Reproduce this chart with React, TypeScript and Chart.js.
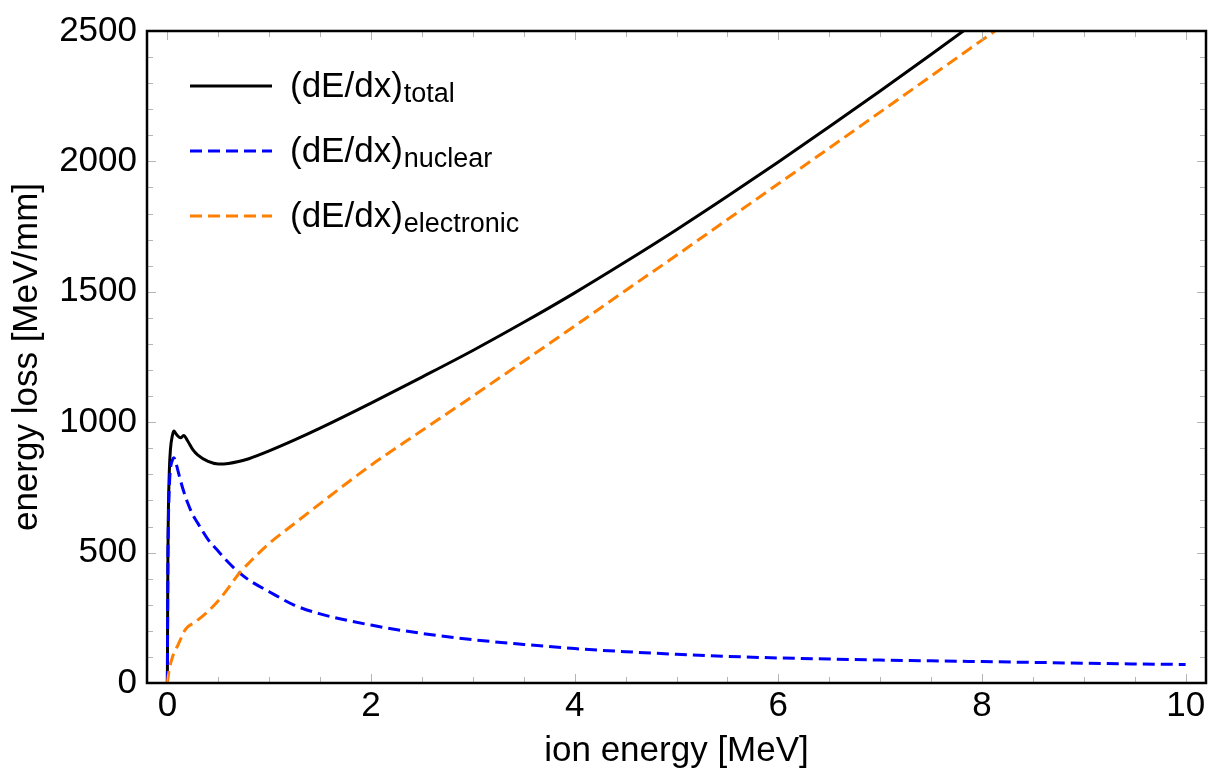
import React, { useEffect, useRef } from "react";
import { Chart, registerables } from "chart.js";

Chart.register(...registerables);

// ---- data ----
const ionEnergy = [0, 0.005, 0.01, 0.02, 0.03, 0.05, 0.065, 0.08, 0.1, 0.13, 0.16, 0.2, 0.25, 0.3, 0.4, 0.5, 0.6, 0.7, 0.8, 1.0, 1.25, 1.5, 2, 2.5, 3, 3.5, 4, 4.5, 5, 5.5, 6, 6.5, 7, 7.5, 8, 8.5, 9, 9.5, 10];
const dEdxTotal = [0, 470, 660, 820, 895, 950, 966, 958, 948, 940, 949, 928, 895, 874, 850, 840, 842, 849, 860, 890, 932, 977, 1073, 1173, 1275, 1383, 1496, 1615, 1738, 1866, 1998, 2133, 2270, 2410, 2552, null, null, null, null];
const dEdxNuclear = [0, 450, 620, 760, 820, 855, 864, 850, 820, 775, 735, 690, 645, 612, 550, 505, 462, 425, 395, 350, 298, 265, 222, 190, 166, 148, 132, 120, 110, 102, 96, 92, 88, 85, 82, 79, 76, 73, 71];
const dEdxElectronic = [0, 15, 30, 55, 72, 100, 115, 128, 142, 168, 195, 215, 228, 242, 275, 315, 365, 418, 460, 535, 612, 688, 835, 968, 1100, 1234, 1369, 1505, 1640, 1777, 1914, 2051, 2189, 2327, 2465, 2603, null, null, null];

const xTickValues = [0, 2, 4, 6, 8, 10];
const xMinorTickValues = [0, 0.5, 1, 1.5, 2, 2.5, 3, 3.5, 4, 4.5, 5, 5.5, 6, 6.5, 7, 7.5, 8, 8.5, 9, 9.5, 10];
const yTickValues = [0, 500, 1000, 1500, 2000, 2500];
const yMinorTickValues = [0, 100, 200, 300, 400, 500, 600, 700, 800, 900, 1000, 1100, 1200, 1300, 1400, 1500, 1600, 1700, 1800, 1900, 2000, 2100, 2200, 2300, 2400, 2500];

const legendItems = [
  { main: "(dE/dx)", sub: "total", color: "#000000", dash: [] as number[] },
  { main: "(dE/dx)", sub: "nuclear", color: "#0000ff", dash: [12, 6] },
  { main: "(dE/dx)", sub: "electronic", color: "#ff8000", dash: [12, 6] },
];

const FONT = "'Liberation Sans', Arial, Helvetica, sans-serif";

const pts = (ys: (number | null)[]) => ionEnergy.map((x, i) => ({ x, y: ys[i] }));

const framePlugin = {
  id: "framePlugin",
  afterDatasetsDraw(chart: any) {
    const { ctx, chartArea } = chart;
    const { left, right, top, bottom } = chartArea;
    const xs = chart.scales.x;
    const ys = chart.scales.y;
    ctx.save();
    ctx.strokeStyle = "#b4b4b4";
    ctx.lineWidth = 1;
    ctx.setLineDash([]);
    ctx.beginPath();
    xMinorTickValues.forEach((v) => {
      const px = Math.round(xs.getPixelForValue(v)) + 0.5;
      const len = xTickValues.includes(v) ? 9 : 6;
      ctx.moveTo(px, bottom);
      ctx.lineTo(px, bottom - len);
      ctx.moveTo(px, top);
      ctx.lineTo(px, top + len);
    });
    yMinorTickValues.forEach((v) => {
      const py = Math.round(ys.getPixelForValue(v)) + 0.5;
      const len = yTickValues.includes(v) ? 9 : 6;
      ctx.moveTo(left, py);
      ctx.lineTo(left + len, py);
      ctx.moveTo(right, py);
      ctx.lineTo(right - len, py);
    });
    ctx.stroke();
    ctx.strokeStyle = "#000000";
    ctx.lineWidth = 2.5;
    ctx.strokeRect(left, top, right - left, bottom - top);
    ctx.restore();
  },
  afterDraw(chart: any) {
    const { ctx, chartArea } = chart;
    const x0 = chartArea.left + 43;
    const x1 = chartArea.left + 125;
    const tx = chartArea.left + 143;
    ctx.save();
    legendItems.forEach((it, i) => {
      const y = chartArea.top + 55 + i * 65;
      ctx.strokeStyle = it.color;
      ctx.lineWidth = 3;
      ctx.setLineDash(it.dash);
      ctx.beginPath();
      ctx.moveTo(x0, y);
      ctx.lineTo(x1, y);
      ctx.stroke();
      ctx.setLineDash([]);
      ctx.fillStyle = "#000000";
      ctx.textBaseline = "alphabetic";
      ctx.textAlign = "left";
      ctx.font = `35px ${FONT}`;
      const base = y + 11;
      ctx.fillText(it.main, tx, base);
      const w = ctx.measureText(it.main).width;
      ctx.font = `27px ${FONT}`;
      ctx.fillText(it.sub, tx + w + 1, base + 5);
    });
    ctx.restore();
  },
};

export default function App() {
  const ref = useRef<HTMLCanvasElement | null>(null);
  useEffect(() => {
    document.body.style.margin = "0";
    const canvas = ref.current;
    if (!canvas) return;
    const chart = new Chart(canvas, {
      type: "line",
      data: {
        datasets: [
          {
            label: "(dE/dx)total",
            data: pts(dEdxTotal),
            borderColor: "#000000",
            borderWidth: 3,
            pointRadius: 0,
            cubicInterpolationMode: "monotone",
            order: 2,
          },
          {
            label: "(dE/dx)nuclear",
            data: pts(dEdxNuclear),
            borderColor: "#0000ff",
            borderWidth: 3,
            borderDash: [12, 6],
            pointRadius: 0,
            cubicInterpolationMode: "monotone",
            order: 1,
          },
          {
            label: "(dE/dx)electronic",
            data: pts(dEdxElectronic),
            borderColor: "#ff8000",
            borderWidth: 3,
            borderDash: [12, 6],
            pointRadius: 0,
            cubicInterpolationMode: "monotone",
            order: 0,
          },
        ],
      },
      options: {
        animation: false,
        responsive: false,
        maintainAspectRatio: false,
        layout: { padding: { left: 0, top: 28, right: 12, bottom: 0 } },
        plugins: { legend: { display: false }, tooltip: { enabled: false } },
        scales: {
          x: {
            type: "linear",
            min: -0.2,
            max: 10.2,
            grid: { display: false, drawTicks: false },
            border: { display: false },
            afterBuildTicks: (s: any) => {
              s.ticks = xTickValues.map((value) => ({ value }));
            },
            afterFit: (s: any) => {
              s.height = 92;
            },
            ticks: {
              color: "#000000",
              font: { family: FONT, size: 35 },
              padding: 2,
              maxRotation: 0,
              autoSkip: false,
              callback: (v: any) => String(v),
            },
            title: {
              display: true,
              text: "ion energy [MeV]",
              color: "#000000",
              font: { family: FONT, size: 35 },
              padding: { top: 0, bottom: 3 },
            },
          },
          y: {
            type: "linear",
            min: 0,
            max: 2500,
            grid: { display: false, drawTicks: false },
            border: { display: false },
            afterBuildTicks: (s: any) => {
              s.ticks = yTickValues.map((value) => ({ value }));
            },
            afterFit: (s: any) => {
              s.width = 147;
            },
            ticks: {
              color: "#000000",
              font: { family: FONT, size: 35 },
              padding: 10,
              autoSkip: false,
              callback: (v: any) => String(v),
            },
            title: {
              display: true,
              text: "energy loss [MeV/mm]",
              color: "#000000",
              font: { family: FONT, size: 35 },
              padding: { top: 6, bottom: 0 },
            },
          },
        },
      },
      plugins: [framePlugin],
    } as any);
    return () => chart.destroy();
  }, []);
  return (
    <div style={{ width: 1218, height: 775, background: "#ffffff" }}>
      <canvas ref={ref} width={1218} height={775} style={{ display: "block" }} />
    </div>
  );
}
